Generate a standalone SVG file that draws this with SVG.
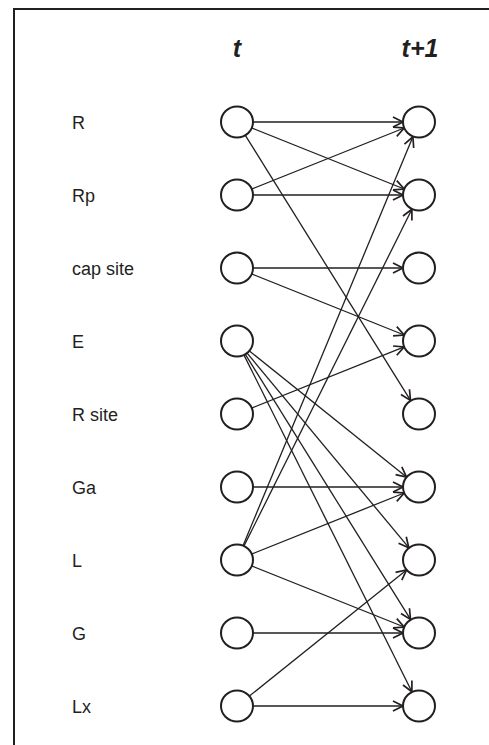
<svg xmlns="http://www.w3.org/2000/svg" width="489" height="745" viewBox="0 0 489 745">
<style>
.lbl{font-family:"Liberation Sans",Arial,sans-serif;font-size:18px;fill:#231f20}
.hdr{font-family:"Liberation Sans",Arial,sans-serif;font-size:25px;font-weight:bold;font-style:italic;fill:#231f20;text-anchor:middle}
.node{fill:#fff;stroke:#231f20;stroke-width:2}
.edge{stroke:#231f20;stroke-width:1.3;fill:none;marker-end:url(#arr)}
</style>
<defs>
<marker id="arr" viewBox="-12 -7 14 14" refX="0" refY="0" markerWidth="14" markerHeight="14" markerUnits="userSpaceOnUse" orient="auto">
<path d="M-10,-5 L0,0 L-10,5" fill="none" stroke="#231f20" stroke-width="1.7"/>
</marker>
</defs>
<rect width="489" height="745" fill="#fff"/>
<path d="M14,745 V9 H489" fill="none" stroke="#231f20" stroke-width="2"/>
<text class="hdr" x="237" y="57">t</text>
<text class="hdr" x="420" y="57">t+1</text>
<g id="connectors">
<line class="edge" x1="252.5" y1="122" x2="403" y2="122"/>
<line class="edge" x1="251.4" y1="127.8" x2="404.2" y2="189"/>
<line class="edge" x1="245.2" y1="135.2" x2="410.5" y2="400.4"/>
<line class="edge" x1="251.4" y1="189.2" x2="404.2" y2="128"/>
<line class="edge" x1="252.5" y1="195" x2="403" y2="195"/>
<line class="edge" x1="252.5" y1="268" x2="403" y2="268"/>
<line class="edge" x1="251.4" y1="273.8" x2="404.2" y2="335"/>
<line class="edge" x1="249.1" y1="350.7" x2="406.5" y2="477"/>
<line class="edge" x1="246.9" y1="352.9" x2="408.8" y2="547.7"/>
<line class="edge" x1="245.2" y1="354.2" x2="410.5" y2="619.4"/>
<line class="edge" x1="243.9" y1="354.9" x2="411.9" y2="691.7"/>
<line class="edge" x1="251.4" y1="408.2" x2="404.2" y2="346.9"/>
<line class="edge" x1="252.5" y1="487" x2="403" y2="487"/>
<line class="edge" x1="243" y1="545.7" x2="412.9" y2="136.8"/>
<line class="edge" x1="243.9" y1="546.1" x2="411.9" y2="209.3"/>
<line class="edge" x1="251.4" y1="554.2" x2="404.2" y2="493"/>
<line class="edge" x1="251.4" y1="565.8" x2="404.2" y2="627"/>
<line class="edge" x1="252.5" y1="633" x2="403" y2="633"/>
<line class="edge" x1="249.1" y1="696.3" x2="406.5" y2="570"/>
<line class="edge" x1="252.5" y1="706" x2="403" y2="706"/>
</g>
<g id="n-R"><text class="lbl" x="72" y="128.5">R</text><ellipse class="node" cx="237" cy="122" rx="16" ry="15.5"/><ellipse class="node" cx="419" cy="122" rx="16" ry="15.5"/></g>
<g id="n-Rp"><text class="lbl" x="72" y="201.5">Rp</text><ellipse class="node" cx="237" cy="195" rx="16" ry="15.5"/><ellipse class="node" cx="419" cy="195" rx="16" ry="15.5"/></g>
<g id="n-cap"><text class="lbl" x="72" y="274.5">cap site</text><ellipse class="node" cx="237" cy="268" rx="16" ry="15.5"/><ellipse class="node" cx="419" cy="268" rx="16" ry="15.5"/></g>
<g id="n-E"><text class="lbl" x="72" y="347.5">E</text><ellipse class="node" cx="237" cy="341" rx="16" ry="15.5"/><ellipse class="node" cx="419" cy="341" rx="16" ry="15.5"/></g>
<g id="n-Rsite"><text class="lbl" x="72" y="420.5">R site</text><ellipse class="node" cx="237" cy="414" rx="16" ry="15.5"/><ellipse class="node" cx="419" cy="414" rx="16" ry="15.5"/></g>
<g id="n-Ga"><text class="lbl" x="72" y="493.5">Ga</text><ellipse class="node" cx="237" cy="487" rx="16" ry="15.5"/><ellipse class="node" cx="419" cy="487" rx="16" ry="15.5"/></g>
<g id="n-L"><text class="lbl" x="72" y="566.5">L</text><ellipse class="node" cx="237" cy="560" rx="16" ry="15.5"/><ellipse class="node" cx="419" cy="560" rx="16" ry="15.5"/></g>
<g id="n-G"><text class="lbl" x="72" y="639.5">G</text><ellipse class="node" cx="237" cy="633" rx="16" ry="15.5"/><ellipse class="node" cx="419" cy="633" rx="16" ry="15.5"/></g>
<g id="n-Lx"><text class="lbl" x="72" y="712.5">Lx</text><ellipse class="node" cx="237" cy="706" rx="16" ry="15.5"/><ellipse class="node" cx="419" cy="706" rx="16" ry="15.5"/></g>
</svg>
